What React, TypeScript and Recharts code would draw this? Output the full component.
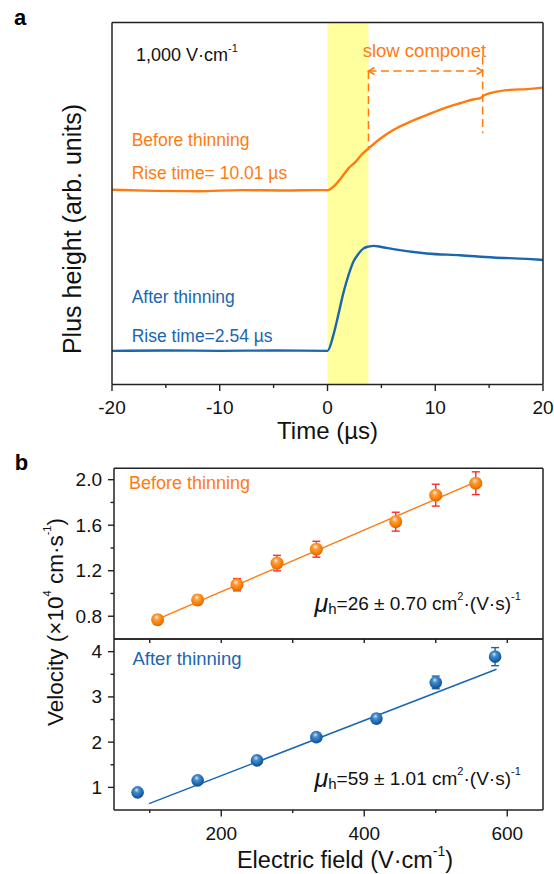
import React from "react";
import {
  LineChart,
  ComposedChart,
  Line,
  Scatter,
  ErrorBar,
  XAxis,
  YAxis,
  ReferenceArea,
  ReferenceLine,
} from "recharts";

// ---- panel a: transient pulses (arb. units, 0..100 scale) ----
const timeBefore = [-20, -16, -12, -8, -4, -1, 0, 0.7, 1.35, 1.95, 2.6, 3.2, 3.8, 4.8, 6.1, 7.7, 9.2, 10.8, 12.3, 13.6, 14.2, 14.5, 15.4, 17, 18.5, 20];
const pulseBefore = [53.8, 53.5, 53.4, 53.7, 53.6, 53.7, 53.7, 55.1, 57.4, 59.7, 61.5, 63.6, 65.2, 67.7, 70.3, 72.6, 74.4, 76.3, 77.7, 78.8, 79.1, 79.8, 80.7, 81.4, 81.6, 82.0];
const timeAfter = [-20, -15, -10, -5, 0, 0.55, 1.0, 1.5, 1.95, 2.4, 2.9, 3.35, 3.8, 4.3, 5, 6.1, 9.2, 12.3, 15.4, 18.5, 20];
const pulseAfter = [9.3, 9.4, 9.3, 9.4, 9.3, 13.7, 19.2, 25.6, 30.2, 33.9, 36.2, 37.6, 38.1, 38.3, 38.0, 37.4, 36.2, 35.7, 35.1, 34.7, 34.4];
const timeTicks = [-20, -15, -10, -5, 0, 5, 10, 15, 20];
const timeLabels = [-20, -10, 0, 10, 20];
const riseBand = [0, 3.8];
const slowSpan = [3.8, 14.4];

// ---- panel b: velocity vs field ----
const fieldBefore = [111, 167, 222, 278, 333, 444, 500, 556];
const velBefore = [0.77, 0.943, 1.077, 1.267, 1.389, 1.631, 1.864, 1.969];
const errBefore = [0.038, 0.04, 0.054, 0.068, 0.07, 0.083, 0.096, 0.1];
const fitBeforeX = [111, 556];
const fitBeforeY = [0.775, 1.98];

const fieldAfter = [83, 167, 250, 333, 417, 500, 583];
const velAfter = [0.89, 1.155, 1.596, 2.11, 2.52, 3.32, 3.89];
const errAfter = [0.06, 0.06, 0.07, 0.09, 0.1, 0.14, 0.2];
const fitAfterX = [99, 585];
const fitAfterY = [0.64, 3.61];

const fieldTicks = [100, 200, 300, 400, 500, 600];
const fieldLabels = [200, 400, 600];
const velTicksTop = [0.8, 1.0, 1.2, 1.4, 1.6, 1.8, 2.0];
const velLabelsTop = [0.8, 1.2, 1.6, 2.0];
const velTicksBottom = [1, 1.5, 2, 2.5, 3, 3.5, 4];
const velLabelsBottom = [1, 2, 3, 4];

const ORANGE = "#ff7b0f";
const BLUE = "#1a66b0";
const AXIS = "#222";
const FONT = "'Liberation Sans', Arial, sans-serif";

const traceBefore = timeBefore.map((t, i) => ({ t, v: pulseBefore[i] }));
const traceAfter = timeAfter.map((t, i) => ({ t, v: pulseAfter[i] }));
const ptsBefore = fieldBefore.map((x, i) => ({ x, y: velBefore[i], e: errBefore[i] }));
const ptsAfter = fieldAfter.map((x, i) => ({ x, y: velAfter[i], e: errAfter[i] }));
const lineBefore = fitBeforeX.map((x, i) => ({ x, y: fitBeforeY[i] }));
const lineAfter = fitAfterX.map((x, i) => ({ x, y: fitAfterY[i] }));

// tick renderers (tick lines are drawn here so majors/minors can differ)
const xTick = (labelled: number[], majorLen: number, minorLen: number, dy: number) => (props: any) => {
  const { x, y, payload } = props;
  const major = labelled.includes(payload.value);
  return (
    <g>
      <line x1={x} x2={x} y1={y} y2={y + (major ? majorLen : minorLen)} stroke={AXIS} strokeWidth={1.4} />
      {major && (
        <text x={x} y={y + dy} textAnchor="middle" dominantBaseline="central" fontSize={19} fill="#111" fontFamily={FONT}>
          {payload.value}
        </text>
      )}
    </g>
  );
};

const yTick = (labelled: number[], majorLen: number, minorLen: number, fmt: (v: number) => string) => (props: any) => {
  const { x, y, payload } = props;
  const major = labelled.includes(payload.value);
  return (
    <g>
      <line x1={x} x2={x - (major ? majorLen : minorLen)} y1={y} y2={y} stroke={AXIS} strokeWidth={1.4} />
      {major && (
        <text x={x - 12} y={y} textAnchor="end" dominantBaseline="central" fontSize={19} fill="#111" fontFamily={FONT}>
          {fmt(payload.value)}
        </text>
      )}
    </g>
  );
};

const Ball = (fill: string, r: number) => (props: any) => {
  const { cx, cy } = props;
  if (cx == null || cy == null) return <g />;
  return <circle cx={cx} cy={cy} r={r} fill={fill} />;
};

// dashed double arrow for "slow componet"
const DashArrow = (props: any) => {
  const { x1, y1, x2, y2 } = props;
  const h = 5;
  return (
    <g stroke={ORANGE} strokeWidth={1.5} fill="none">
      <line x1={x1} y1={y1} x2={x2} y2={y2} strokeDasharray="8 4.5" />
      <polyline points={`${x1 + h + 1},${y1 - h * 0.7} ${x1},${y1} ${x1 + h + 1},${y1 + h * 0.7}`} />
      <polyline points={`${x2 - h - 1},${y2 - h * 0.7} ${x2},${y2} ${x2 - h - 1},${y2 + h * 0.7}`} />
    </g>
  );
};

const frameProps = { stroke: AXIS, strokeWidth: 1.5 };

// axes are 1px thick boxes (recharts skips 0-sized axes), margins compensate
function PanelA() {
  return (
    <LineChart width={554} height={440} margin={{ top: 21.5, right: 10, bottom: 54.5, left: 111 }}>
      <XAxis
        dataKey="t"
        type="number"
        domain={[-20, 20]}
        ticks={timeTicks}
        interval={0}
        height={1}
        tickSize={0}
        tickMargin={0}
        tickLine={false}
        axisLine={frameProps}
        tick={xTick(timeLabels, 6.5, 3.5, 22.5)}
        allowDataOverflow
      />
      <XAxis xAxisId="top" orientation="top" type="number" domain={[-20, 20]} height={1} tick={false} tickLine={false} axisLine={frameProps} />
      <YAxis type="number" domain={[0, 100]} width={1} tick={false} tickLine={false} axisLine={frameProps} />
      <YAxis yAxisId="right" orientation="right" type="number" domain={[0, 100]} width={1} tick={false} tickLine={false} axisLine={frameProps} />
      <ReferenceArea x1={riseBand[0]} x2={riseBand[1]} fill="#ffff9e" fillOpacity={1} stroke="none" />
      <ReferenceLine segment={[{ x: slowSpan[0], y: 86.6 }, { x: slowSpan[0], y: 65.2 }]} stroke={ORANGE} strokeWidth={1.5} strokeDasharray="8 4.5" />
      <ReferenceLine segment={[{ x: slowSpan[1], y: 90.6 }, { x: slowSpan[1], y: 69.4 }]} stroke={ORANGE} strokeWidth={1.5} strokeDasharray="8 4.5" />
      <ReferenceLine segment={[{ x: slowSpan[0], y: 86.6 }, { x: slowSpan[1], y: 86.6 }]} shape={DashArrow} />
      <Line data={traceBefore} dataKey="v" type="monotone" stroke={ORANGE} strokeWidth={2.4} dot={false} isAnimationActive={false} />
      <Line data={traceAfter} dataKey="v" type="monotone" stroke={BLUE} strokeWidth={2.4} dot={false} isAnimationActive={false} />
    </LineChart>
  );
}

function PanelBTop() {
  return (
    <ComposedChart width={554} height={220} margin={{ top: 27.3, right: 10, bottom: 20, left: 113 }}>
      <XAxis dataKey="x" type="number" domain={[50, 650]} ticks={fieldTicks} interval={0} height={1} tickSize={0} tickMargin={0} tickLine={false} axisLine={frameProps} tick={xTick([], 4, 4, 0)} />
      <XAxis xAxisId="top" orientation="top" type="number" domain={[50, 650]} height={1} tick={false} tickLine={false} axisLine={frameProps} />
      <YAxis type="number" domain={[0.6, 2.1]} ticks={velTicksTop} interval={0} width={1} tickSize={0} tickMargin={0} tickLine={false} axisLine={frameProps} tick={yTick(velLabelsTop, 6, 3.5, (v) => v.toFixed(1))} />
      <YAxis yAxisId="right" orientation="right" type="number" domain={[0.6, 2.1]} width={1} tick={false} tickLine={false} axisLine={frameProps} />
      <Line data={lineBefore} dataKey="y" type="linear" stroke={ORANGE} strokeWidth={1.4} dot={false} isAnimationActive={false} />
      <Scatter data={ptsBefore} dataKey="y" shape={Ball("url(#ballOrange)", 6.5)} isAnimationActive={false}>
        <ErrorBar dataKey="e" direction="y" stroke="#ff2a2a" strokeWidth={1.4} width={4} />
      </Scatter>
    </ComposedChart>
  );
}

function PanelBBottom() {
  return (
    <ComposedChart width={554} height={244} margin={{ top: 8, right: 10, bottom: 63, left: 113 }}>
      <XAxis dataKey="x" type="number" domain={[50, 650]} ticks={fieldTicks} interval={0} height={1} tickSize={0} tickMargin={0} tickLine={false} axisLine={frameProps} tick={xTick(fieldLabels, 6.5, 3, 23.5)} />
      <XAxis xAxisId="top" orientation="top" type="number" domain={[50, 650]} height={1} tick={false} tickLine={false} axisLine={frameProps} />
      <YAxis type="number" domain={[0.5, 4.28]} ticks={velTicksBottom} interval={0} width={1} tickSize={0} tickMargin={0} tickLine={false} axisLine={frameProps} tick={yTick(velLabelsBottom, 6, 3.5, (v) => String(v))} />
      <YAxis yAxisId="right" orientation="right" type="number" domain={[0.5, 4.28]} width={1} tick={false} tickLine={false} axisLine={frameProps} />
      <Line data={lineAfter} dataKey="y" type="linear" stroke={BLUE} strokeWidth={1.5} dot={false} isAnimationActive={false} />
      <Scatter data={ptsAfter} dataKey="y" shape={Ball("url(#ballBlue)", 6.3)} isAnimationActive={false}>
        <ErrorBar dataKey="e" direction="y" stroke={BLUE} strokeWidth={1.4} width={4} />
      </Scatter>
    </ComposedChart>
  );
}

const sup = { fontSize: 11 };

export default function App() {
  return (
    <div style={{ position: "absolute", left: 0, top: 0, width: 554, height: 874, background: "#fff", fontFamily: FONT }}>
      <svg width={0} height={0} style={{ position: "absolute" }}>
        <defs>
          <radialGradient id="ballOrange" cx="0.45" cy="0.4" r="0.62" fx="0.42" fy="0.3">
            <stop offset="0" stopColor="#fff1e0" />
            <stop offset="0.3" stopColor="#ffa040" />
            <stop offset="0.75" stopColor="#f57a00" />
            <stop offset="1" stopColor="#d86200" />
          </radialGradient>
          <radialGradient id="ballBlue" cx="0.45" cy="0.4" r="0.62" fx="0.42" fy="0.3">
            <stop offset="0" stopColor="#d8e8f6" />
            <stop offset="0.3" stopColor="#4a8fcc" />
            <stop offset="0.75" stopColor="#1a64ad" />
            <stop offset="1" stopColor="#0f4c88" />
          </radialGradient>
        </defs>
      </svg>
      <div style={{ position: "absolute", left: 0, top: 0 }}>
        <PanelA />
      </div>
      <div style={{ position: "absolute", left: 0, top: 440 }}>
        <PanelBTop />
      </div>
      <div style={{ position: "absolute", left: 0, top: 630 }}>
        <PanelBBottom />
      </div>
      <svg width={554} height={874} style={{ position: "absolute", left: 0, top: 0, pointerEvents: "none" }} fontFamily={FONT}>
        <text x={20} y={17} fontSize={22} fontWeight="bold" textAnchor="middle" dominantBaseline="central">a</text>
        <text x={21.5} y={462} fontSize={22} fontWeight="bold" textAnchor="middle" dominantBaseline="central">b</text>

        <text transform="translate(71.7,229) rotate(-90)" fontSize={25} textAnchor="middle" dominantBaseline="central" fill="#111">
          Plus height (arb. units)
        </text>
        <text x={327.5} y={430} fontSize={24} textAnchor="middle" dominantBaseline="central" fill="#111">Time (µs)</text>

        <text x={136} y={55} fontSize={18} dominantBaseline="central" fill="#111">
          1,000 V·cm<tspan style={sup} dy={-7}>-1</tspan>
        </text>
        <text x={362.7} y={50} fontSize={18.5} dominantBaseline="central" fill={ORANGE}>slow componet</text>
        <text x={131.7} y={140} fontSize={17.5} dominantBaseline="central" fill={ORANGE}>Before thinning</text>
        <text x={131.7} y={173.3} fontSize={17.5} dominantBaseline="central" fill={ORANGE}>Rise time= 10.01 µs</text>
        <text x={131.7} y={296.7} fontSize={17.5} dominantBaseline="central" fill={BLUE}>After thinning</text>
        <text x={131.7} y={336} fontSize={17.5} dominantBaseline="central" fill={BLUE}>Rise time=2.54 µs</text>

        <text x={129} y={483} fontSize={18} dominantBaseline="central" fill={ORANGE}>Before thinning</text>
        <text x={132.5} y={658} fontSize={18.5} dominantBaseline="central" fill={BLUE}>After thinning</text>

        <text x={314.5} y={603} fontSize={19} dominantBaseline="central" fill="#111">
          <tspan fontStyle="italic" fontSize={25}>μ</tspan>
          <tspan fontSize={15} dy={5}>h</tspan>
          <tspan dy={-5}>=26 ± 0.70 cm</tspan>
          <tspan style={sup} dy={-7}>2</tspan>
          <tspan dy={7}>·(V·s)</tspan>
          <tspan style={sup} dy={-7}>-1</tspan>
        </text>
        <text x={314.5} y={778} fontSize={19} dominantBaseline="central" fill="#111">
          <tspan fontStyle="italic" fontSize={25}>μ</tspan>
          <tspan fontSize={15} dy={5}>h</tspan>
          <tspan dy={-5}>=59 ± 1.01 cm</tspan>
          <tspan style={sup} dy={-7}>2</tspan>
          <tspan dy={7}>·(V·s)</tspan>
          <tspan style={sup} dy={-7}>-1</tspan>
        </text>

        <text transform="translate(55,622) rotate(-90)" fontSize={22.5} textAnchor="middle" dominantBaseline="central" fill="#111">
          Velocity (×10<tspan style={sup} fontSize={13} dy={-8}>4</tspan>
          <tspan dy={8}> cm·s</tspan>
          <tspan style={sup} fontSize={13} dy={-8}>-1</tspan>
          <tspan dy={8}>)</tspan>
        </text>
        <text x={345} y={860} fontSize={23.5} textAnchor="middle" dominantBaseline="central" fill="#111">
          Electric field (V·cm<tspan fontSize={14} dy={-9}>-1</tspan>
          <tspan dy={9}>)</tspan>
        </text>
      </svg>
    </div>
  );
}
